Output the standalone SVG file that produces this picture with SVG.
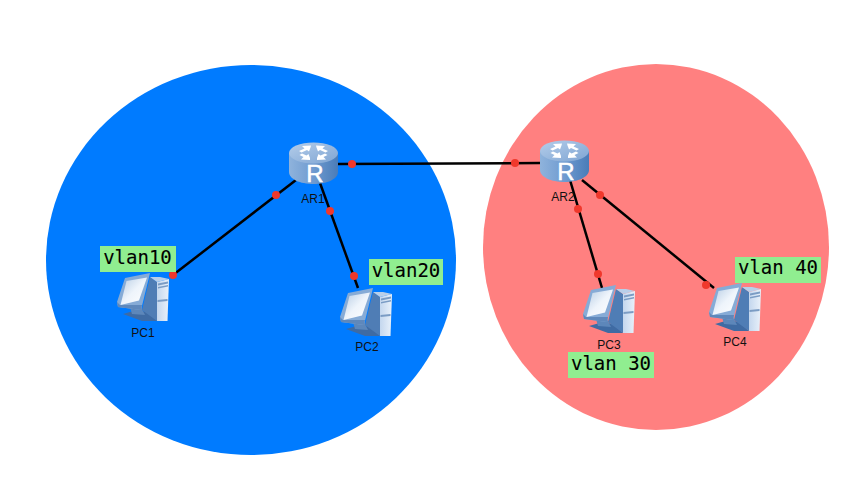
<svg xmlns="http://www.w3.org/2000/svg" width="867" height="480" viewBox="0 0 867 480">
<style>
.lbl{font:12px "Liberation Sans",Arial,sans-serif;fill:#111;text-anchor:middle}
.vl{font:19px "DejaVu Sans Mono",monospace;fill:#000;stroke:#000;stroke-width:.1;text-anchor:middle}
.tag{fill:#90ee90}
.ln{stroke:#000;stroke-width:2.5;fill:none}
.dot{fill:#f0382c}
</style>
<defs>
<linearGradient id="rb" x1="0" x2="1" y1="0" y2="0"><stop offset="0" stop-color="#8fb3dc"/><stop offset=".5" stop-color="#6f9bd0"/><stop offset="1" stop-color="#4a7cb8"/></linearGradient>
<linearGradient id="rt" x1="0" x2="1" y1="0" y2="1"><stop offset="0" stop-color="#b4cdea"/><stop offset="1" stop-color="#7fa5d3"/></linearGradient>
<linearGradient id="scr" x1="0" x2="1" y1="0" y2="1"><stop offset="0" stop-color="#b5cbe3"/><stop offset=".5" stop-color="#eef4fb"/><stop offset="1" stop-color="#fff"/></linearGradient>
<linearGradient id="tw" x1="0" x2="1" y1="0" y2="0"><stop offset="0" stop-color="#c4d7ee"/><stop offset="1" stop-color="#e9f1fa"/></linearGradient>
<symbol id="router" width="50" height="44" viewBox="0 0 50 44" overflow="visible">
<path d="M1 12V31C1 38 12 43 25.500 43S50 38 50 31V12Z" fill="url(#rb)"/>
<ellipse cx="25.500" cy="12" rx="24.500" ry="10.500" fill="url(#rt)"/>
<g fill="#fff">
<path d="M23 4.500l-9 .5 2.500 2.500 -5.500 2.500 2.500 1.500 5.500 -2.500 2 1.500 1.500 -4z"/>
<path d="M28 4.500l9 .5 -2.500 2.500 5.500 2.500 -2.500 1.500 -5.500 -2.500 -2 1.500 -1.500 -4z"/>
<path d="M22 19l-9 -.5 2.500 -2.500 -4 -2 2.500 -1.500 4.500 2 2 -1.500 1.500 4z"/>
<path d="M29 19l9 -.5 -2.500 -2.500 4 -2 -2.500 -1.500 -4.500 2 -2 -1.500 -1.500 4z"/>
</g>
<text x="27" y="41" font-family="Liberation Sans,Arial,sans-serif" font-size="24" fill="#fff" stroke="#fff" stroke-width=".5" text-anchor="middle">R</text>
</symbol>
<symbol id="pc" width="52" height="48" viewBox="0 0 52 48" overflow="visible">
<path d="M6 41L20 37 30 39 40 48 25 48Z" fill="#3f6ba3"/>
<path d="M13 34L24 34 28 42 15 41Z" fill="#5d87ba"/>
<path d="M33 4L40 9 40 48 25 37Z" fill="#4f7db5"/>
<path d="M33 4L43 4 52 6 40 9Z" fill="#b9cfe9"/>
<path d="M40 9L52 6 50.500 48 40 48Z" fill="url(#tw)"/>
<path d="M41 10.500L51 8.500 51 10.500 41 12.500ZM41 14L51 12 51 13.500 41 15.500ZM40.500 27L50.500 26 50.500 28 40.500 29Z" fill="#7b9cc4"/>
<path d="M8 5L33 0 24 37 1 34 0 29Z" fill="#86abd6"/>
<path d="M9.500 8L30 4.500 22 27.500 3.500 32Z" fill="url(#scr)"/>
<path d="M0 29L1 34 24 37 25 32 3 32Z" fill="#5f88bb"/>
</symbol>
</defs>
<rect width="867" height="480" fill="#fff"/>
<ellipse id="zone-blue" cx="251" cy="260" rx="205" ry="195" fill="#007bff"/>
<ellipse id="zone-red" cx="656" cy="247" rx="173" ry="183" fill="#ff8080"/>
<g id="connectors">
<path class="ln" d="M296 180L173 275"/>
<path class="ln" d="M320 183L358 288"/>
<path class="ln" d="M338 164L540 163"/>
<path class="ln" d="M570 180L602 288"/>
<path class="ln" d="M582 180L714 288"/>
<circle class="dot" cx="276" cy="195" r="4"/>
<circle class="dot" cx="173" cy="275" r="4"/>
<circle class="dot" cx="330" cy="211" r="4"/>
<circle class="dot" cx="354" cy="276" r="4"/>
<circle class="dot" cx="352" cy="164" r="4"/>
<circle class="dot" cx="515" cy="163" r="4"/>
<circle class="dot" cx="578" cy="209" r="4"/>
<circle class="dot" cx="598" cy="274" r="4"/>
<circle class="dot" cx="600" cy="195" r="4"/>
<circle class="dot" cx="706" cy="285" r="4"/>
</g>
<g id="AR1"><use href="#router" x="288" y="141"/><text class="lbl" x="313" y="203">AR1</text></g>
<g id="AR2"><use href="#router" x="539" y="139"/><text class="lbl" x="563" y="201">AR2</text></g>
<g id="PC1"><use href="#pc" x="117" y="273"/><text class="lbl" x="143" y="337">PC1</text></g>
<g id="PC2"><use href="#pc" x="340" y="288"/><text class="lbl" x="367" y="351">PC2</text></g>
<g id="PC3"><use href="#pc" x="583" y="285"/><text class="lbl" x="609" y="349">PC3</text></g>
<g id="PC4"><use href="#pc" x="709" y="283"/><text class="lbl" x="735" y="346">PC4</text></g>
<g id="vlan10"><rect class="tag" x="100" y="246" width="76" height="26"/><text class="vl" x="137.500" y="264">vlan10</text></g>
<g id="vlan20"><rect class="tag" x="369" y="259" width="74" height="26"/><text class="vl" x="406" y="277">vlan20</text></g>
<g id="vlan30"><rect class="tag" x="568" y="352" width="86" height="26"/><text class="vl" x="611" y="370">vlan 30</text></g>
<g id="vlan40"><rect class="tag" x="735" y="257" width="86" height="26"/><text class="vl" x="778" y="274">vlan 40</text></g>
</svg>
